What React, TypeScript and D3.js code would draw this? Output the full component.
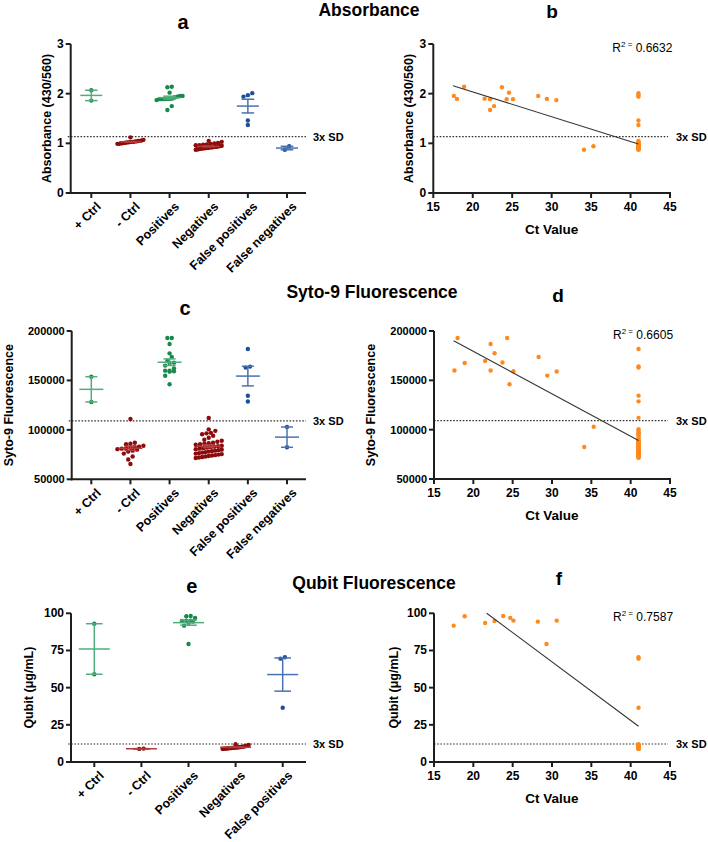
import React from "react";
import * as d3 from "d3";

// ---- categories ----
const categories = ["+ Ctrl", "- Ctrl", "Positives", "Negatives", "False positives", "False negatives"];
const qubitCategories = ["+ Ctrl", "- Ctrl", "Positives", "Negatives", "False positives"];

// Ct values (undetected samples plotted at 41)
const ctPositives = [17.6, 18.0, 18.9, 21.5, 22.2, 22.2, 22.7, 23.7, 24.3, 24.6, 25.1, 28.3, 29.4, 30.6];
const ctFalseNeg = [34.1, 35.3];
const ctUndetected = 41;
const ctQubitPositives = [17.5, 18.9, 21.5, 22.7, 23.8, 24.7, 25.1, 28.2, 29.3, 30.6];

// ---- absorbance ----
const absPosCtrl = [2.07, 1.86];
const absNegCtrl = [1.12, 1.07, 1.06, 1.05, 1.05, 1.04, 1.04, 1.03, 1.03, 1.03, 1.02, 1.02, 1.01, 1.01, 1.0, 1.0, 0.99, 0.99];
const absPositives = [1.955, 1.895, 2.14, 1.9, 1.89, 1.67, 1.75, 2.13, 1.89, 2.02, 1.89, 1.955, 1.895, 1.87, 1.93, 1.94];
const absNegatives = [1.05, 1.03, 1.01, 1.0, 0.99, 0.98, 0.97, 0.96, 0.96, 0.95, 0.95, 0.94, 0.94, 0.93, 0.93, 0.93,
  0.92, 0.92, 0.92, 0.91, 0.91, 0.91, 0.9, 0.9, 0.9, 0.89, 0.89, 0.88, 0.88, 0.87];
const absFalsePos = [2.01, 1.97, 1.94, 1.46, 1.37];
const absFalseNeg = [0.87, 0.94];
const absSD = 1.135;
const absFitX = [17.5, 41];
const absFitY = [2.16, 0.985];

// ---- syto-9 ----
const sytoPosCtrl = [153800, 128200];
const sytoNegCtrl = [111000, 87000, 86000, 85500, 84000, 83000, 82500, 82000, 81500, 81000, 80500, 80000, 79000,
  78000, 76000, 73000, 70000, 65500];
const sytoPositives = [159900, 192900, 167600, 169700, 186900, 159900, 177400, 168000, 192900, 146100, 159200,
  173700, 154800, 158900, 165000, 162000];
const sytoNegatives = [112000, 100500, 99000, 97000, 96500, 95500, 94000, 92000, 90000, 89000, 88000, 87000, 86500,
  86000, 85500, 85000, 84000, 83500, 83000, 82500, 82000, 81500, 81000, 80500, 80000, 79500, 79000, 78500, 78000,
  77500, 77000, 76500, 76000, 75500, 75000, 74500, 74000, 73500, 73000, 72500, 72000, 71500];
const sytoFalsePos = [181800, 164000, 163000, 134500, 128700];
const sytoFalseNeg = [82400, 102900];
const sytoSD = 109100;
const sytoFitX = [17.5, 41];
const sytoFitY = [190200, 89000];

// ---- qubit ----
const qPosCtrl = [93, 59];
const qNegCtrl = [8.8, 9.0];
const qPositives = [91.7, 98.0, 93.5, 94.8, 98.2, 96.9, 95.1, 94.4, 79.4, 95.1];
const qNegatives = [12, 11.5, 11, 10.8, 10.5, 10.3, 10.2, 10, 9.9, 9.8, 9.7, 9.6, 9.5, 9.4, 9.3, 9.2, 9.1, 9.0, 8.9, 8.8];
const qFalsePos = [70.4, 69.5, 36.5];
const qSD = 12.1;
const qFitX = [21.7, 41];
const qFitY = [100, 24];

const FONT = "'Liberation Sans', Arial, Helvetica, sans-serif";
const AXIS = "#1e1e1e";
const GREEN = "#17894b", RED = "#8c0c0c", BLUE = "#1d4f9b", ORANGE = "#ff8a1c";
const GREEN_L = "#52ad7d", RED_L = "#b23c3c", BLUE_L = "#4a72b2";
const dotColors = [GREEN, RED, GREEN, RED, BLUE, BLUE];
const barColors = [GREEN_L, RED_L, GREEN_L, RED_L, BLUE_L, BLUE_L];
const R = 2.2;

// simple row-based beeswarm in pixel space
function swarm(values: number[], y: (v: number) => number, cx: number, maxW: number) {
  const pts = values.map((v) => ({ py: y(v) })).sort((a, b) => b.py - a.py);
  const step = R * 2;
  const rows: { start: number; pts: { py: number }[] }[] = [];
  let cur: any = null;
  for (const p of pts) {
    if (!cur || cur.start - p.py > step) {
      cur = { start: p.py, pts: [] };
      rows.push(cur);
    }
    cur.pts.push(p);
  }
  const out: { x: number; y: number }[] = [];
  rows.forEach((row) => {
    const n = row.pts.length;
    const s = n > 1 ? Math.min(step, maxW / (n - 1)) : 0;
    row.pts.forEach((p, i) => out.push({ x: cx + (i - (n - 1) / 2) * s, y: p.py }));
  });
  return out;
}

function CategoryPanel(p: any) {
  const y = d3.scaleLinear().domain(p.domain).range([p.y0, p.y1]);
  const x = d3.scalePoint<string>().domain(p.cats).range(p.catRange);
  const ax = p.axisX;
  return (
    <g fontFamily={FONT}>
      <text x={p.letterX} y={p.letterY} textAnchor="middle" fontSize={20} fontWeight="bold">{p.letter}</text>
      {/* dotted 3x SD */}
      <line x1={ax - 3} x2={p.xRight} y1={y(p.sd)} y2={y(p.sd)} stroke="#333" strokeWidth={1.2} strokeDasharray="1.6,1.6" />
      <text x={p.xRight + 7} y={y(p.sd) + 4} fontSize={11} fontWeight="bold">3x SD</text>
      {p.groups.map((vals: number[], gi: number) => {
        const cx = x(p.cats[gi])!;
        const m = d3.mean(vals)!;
        const se = d3.deviation(vals)! / Math.sqrt(vals.length);
        const pts = swarm(vals, y, cx, 26);
        return (
          <g key={gi}>
            {pts.map((d, i) => (
              <circle key={i} cx={d.x} cy={d.y} r={R} fill={dotColors[gi]} />
            ))}
            <g stroke={barColors[gi]} strokeWidth={1.5}>
              <line x1={cx - p.meanHalf} x2={cx + p.meanHalf} y1={y(m)} y2={y(m)} />
              <line x1={cx} x2={cx} y1={y(m - se)} y2={y(m + se)} />
              <line x1={cx - p.capHalf} x2={cx + p.capHalf} y1={y(m - se)} y2={y(m - se)} />
              <line x1={cx - p.capHalf} x2={cx + p.capHalf} y1={y(m + se)} y2={y(m + se)} />
            </g>
          </g>
        );
      })}
      {/* axes */}
      <line x1={ax} x2={ax} y1={p.y1} y2={p.y0 + 1} stroke={AXIS} strokeWidth={2} />
      <line x1={ax - 1} x2={p.xRight} y1={p.y0} y2={p.y0} stroke={AXIS} strokeWidth={2} />
      {p.ticks.map((t: number) => (
        <g key={t}>
          <line x1={ax - 5} x2={ax} y1={y(t)} y2={y(t)} stroke={AXIS} strokeWidth={2} />
          <text x={ax - 7} y={y(t) + 4} textAnchor="end" fontSize={p.tickFont} fontWeight="bold">{t}</text>
        </g>
      ))}
      {p.cats.map((c: string) => (
        <g key={c}>
          <line x1={x(c)} x2={x(c)} y1={p.y0} y2={p.y0 + 5} stroke={AXIS} strokeWidth={2} />
          <text transform={`translate(${x(c)! + 4},${p.y0 + 8}) rotate(-45)`} dy="0.72em" textAnchor="end"
            fontSize={12.5} fontWeight="bold">{c}</text>
        </g>
      ))}
      <text transform={`translate(${p.yLabelX},${(p.y0 + p.y1) / 2}) rotate(-90)`} textAnchor="middle"
        dominantBaseline="central" fontSize={12.5} fontWeight="bold">{p.yLabel}</text>
    </g>
  );
}

function CtPanel(p: any) {
  const x = d3.scaleLinear().domain([15, 45]).range([p.axisX, p.xRight]);
  const y = d3.scaleLinear().domain(p.domain).range([p.y0, p.y1]);
  const fit = d3.line<number>().x((d) => x(d)).y((_, i) => y(p.fitY[i]));
  const xTicks = x.ticks(6);
  return (
    <g fontFamily={FONT}>
      <text x={p.letterX} y={p.letterY} textAnchor="middle" fontSize={19} fontWeight="bold">{p.letter}</text>
      <line x1={p.axisX} x2={p.xRight - 2} y1={y(p.sd)} y2={y(p.sd)} stroke="#333" strokeWidth={1.2} strokeDasharray="1.6,1.6" />
      <text x={p.xRight + 6} y={y(p.sd) + 4} fontSize={11} fontWeight="bold">3x SD</text>
      {p.points.map((d: number[], i: number) => (
        <circle key={i} cx={x(d[0])} cy={y(d[1])} r={R} fill={ORANGE} />
      ))}
      <path d={fit(p.fitX)!} stroke="#333" strokeWidth={1.1} fill="none" />
      <text x={p.axisX + 179} y={p.y1 + 8} fontSize={12}>
        R<tspan dy={-5} fontSize={8}>2 =</tspan><tspan dy={5}> {p.r2}</tspan>
      </text>
      <line x1={p.axisX} x2={p.axisX} y1={p.y1} y2={p.y0 + 1} stroke={AXIS} strokeWidth={2} />
      <line x1={p.axisX - 1} x2={p.xRight + 1} y1={p.y0} y2={p.y0} stroke={AXIS} strokeWidth={2} />
      {p.ticks.map((t: number) => (
        <g key={t}>
          <line x1={p.axisX - 5} x2={p.axisX} y1={y(t)} y2={y(t)} stroke={AXIS} strokeWidth={2} />
          <text x={p.axisX - 7} y={y(t) + 4} textAnchor="end" fontSize={p.tickFont} fontWeight="bold">{t}</text>
        </g>
      ))}
      {xTicks.map((t) => (
        <g key={t}>
          <line x1={x(t)} x2={x(t)} y1={p.y0} y2={p.y0 + 5} stroke={AXIS} strokeWidth={2} />
          <text x={x(t)} y={p.y0 + 18} textAnchor="middle" fontSize={12} fontWeight="bold">{t}</text>
        </g>
      ))}
      <text x={(p.axisX + p.xRight) / 2} y={p.y0 + 41} textAnchor="middle" fontSize={13.5} fontWeight="bold">Ct Value</text>
      <text transform={`translate(${p.yLabelX},${(p.y0 + p.y1) / 2}) rotate(-90)`} textAnchor="middle"
        dominantBaseline="central" fontSize={12.5} fontWeight="bold">{p.yLabel}</text>
    </g>
  );
}

const pairs = (xs: number[], ys: number[]) => d3.zip(xs, ys) as number[][];
const atUndetected = (ys: number[]) => ys.map((v) => [ctUndetected, v]);

export default function App() {
  const absPoints = [...pairs(ctPositives, absPositives), ...pairs(ctFalseNeg, absFalseNeg),
    ...atUndetected(absFalsePos), ...atUndetected(absNegatives)];
  const sytoPoints = [...pairs(ctPositives, sytoPositives), ...pairs(ctFalseNeg, sytoFalseNeg),
    ...atUndetected(sytoFalsePos), ...atUndetected(sytoNegatives)];
  const qPoints = [...pairs(ctQubitPositives, qPositives), ...atUndetected(qFalsePos), ...atUndetected(qNegatives)];

  return (
    <svg width={708} height={842} style={{ position: "absolute", left: 0, top: 0, background: "#fff" }}>
      <rect width={708} height={842} fill="#fff" />
      <g fontFamily={FONT} fontWeight="bold" fontSize={17.5} textAnchor="middle">
        <text x={369} y={15.5}>Absorbance</text>
        <text x={372} y={298}>Syto-9 Fluorescence</text>
        <text x={374} y={589}>Qubit Fluorescence</text>
      </g>

      <CategoryPanel groups={[absPosCtrl, absNegCtrl, absPositives, absNegatives, absFalsePos, absFalseNeg]}
        cats={categories} domain={[0, 3]} ticks={[0, 1, 2, 3]} y0={193} y1={44} axisX={70.7} xRight={306}
        catRange={[91.3, 287]} meanHalf={11} capHalf={6.3} sd={absSD} yLabel="Absorbance (430/560)" yLabelX={46.7}
        tickFont={12} letter="a" letterX={183} letterY={28.5} />
      <CtPanel points={absPoints} domain={[0, 3]} ticks={[0, 1, 2, 3]} y0={193} y1={44} axisX={433.3} xRight={670}
        fitX={absFitX} fitY={absFitY} sd={absSD} r2="0.6632" yLabel="Absorbance (430/560)" yLabelX={409.3}
        tickFont={12} letter="b" letterX={552} letterY={17.5} />

      <CategoryPanel groups={[sytoPosCtrl, sytoNegCtrl, sytoPositives, sytoNegatives, sytoFalsePos, sytoFalseNeg]}
        cats={categories} domain={[50000, 200000]} ticks={[50000, 100000, 150000, 200000]} y0={479.3} y1={331}
        axisX={71.7} xRight={306} catRange={[91.3, 287]} meanHalf={12} capHalf={6} sd={sytoSD}
        yLabel="Syto-9 Fluorescence" yLabelX={8.7} tickFont={11} letter="c" letterX={185} letterY={315} />
      <CtPanel points={sytoPoints} domain={[50000, 200000]} ticks={[50000, 100000, 150000, 200000]} y0={479}
        y1={331} axisX={434} xRight={670} fitX={sytoFitX} fitY={sytoFitY} sd={sytoSD} r2="0.6605"
        yLabel="Syto-9 Fluorescence" yLabelX={370.5} tickFont={11} letter="d" letterX={558} letterY={301.5} />

      <CategoryPanel groups={[qPosCtrl, qNegCtrl, qPositives, qNegatives, qFalsePos]}
        cats={qubitCategories} domain={[0, 100]} ticks={[0, 25, 50, 75, 100]} y0={762} y1={613.3} axisX={71}
        xRight={306} catRange={[94.3, 282.7]} meanHalf={15.5} capHalf={8.3} sd={qSD} yLabel="Qubit (μg/mL)"
        yLabelX={28.8} tickFont={12} letter="e" letterX={191.7} letterY={592.5} />
      <CtPanel points={qPoints} domain={[0, 100]} ticks={[0, 25, 50, 75, 100]} y0={762} y1={613.3} axisX={434}
        xRight={670} fitX={qFitX} fitY={qFitY} sd={qSD} r2="0.7587" yLabel="Qubit (μg/mL)" yLabelX={394}
        tickFont={12} letter="f" letterX={559} letterY={584.5} />
    </svg>
  );
}
